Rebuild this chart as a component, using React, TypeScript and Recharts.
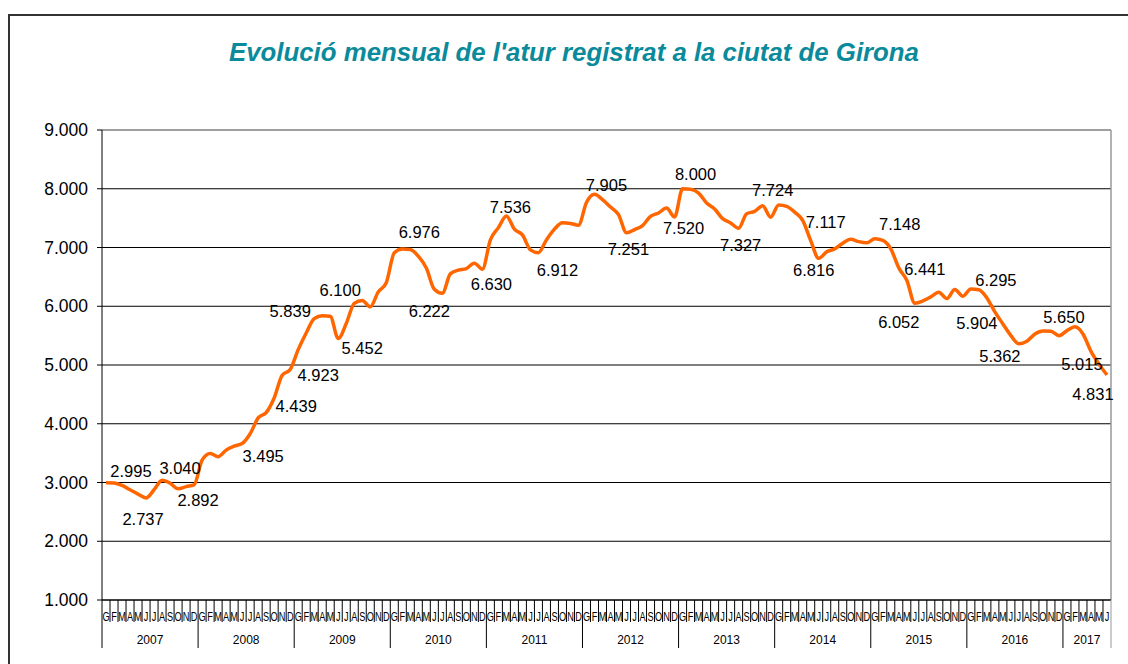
import React from "react";
import {
  LineChart,
  Line,
  XAxis,
  YAxis,
  CartesianGrid,
  ReferenceLine,
} from "recharts";

// mesos (inicials en català) i anys
const monthLetters = ["G", "F", "M", "A", "M", "J", "J", "A", "S", "O", "N", "D"];
const years = ["2007", "2008", "2009", "2010", "2011", "2012", "2013", "2014", "2015", "2016", "2017"];

// atur registrat, un array per any
const atur2007 = [2995, 2990, 2950, 2876, 2803, 2737, 2876, 3040, 2988, 2892, 2930, 2960];
const atur2008 = [3380, 3495, 3440, 3551, 3618, 3663, 3830, 4100, 4190, 4439, 4824, 4923];
const atur2009 = [5262, 5545, 5790, 5839, 5830, 5452, 5705, 6050, 6100, 5990, 6245, 6400];
const atur2010 = [6910, 6976, 6965, 6852, 6650, 6290, 6222, 6551, 6614, 6642, 6733, 6630];
const atur2011 = [7130, 7338, 7536, 7312, 7216, 6960, 6912, 7130, 7312, 7420, 7409, 7380];
const atur2012 = [7767, 7905, 7814, 7689, 7559, 7251, 7305, 7373, 7531, 7588, 7672, 7520];
const atur2013 = [8000, 7990, 7926, 7757, 7655, 7492, 7418, 7327, 7576, 7616, 7712, 7517];
const atur2014 = [7724, 7700, 7602, 7460, 7117, 6816, 6926, 6977, 7074, 7140, 7100, 7080];
const atur2015 = [7148, 7120, 6977, 6653, 6441, 6052, 6090, 6159, 6239, 6130, 6284, 6170];
const atur2016 = [6295, 6280, 6142, 5904, 5699, 5500, 5362, 5404, 5529, 5580, 5574, 5500];
const atur2017 = [5585, 5650, 5529, 5233, 5015, 4831];

const yTicks = [1000, 2000, 3000, 4000, 5000, 6000, 7000, 8000, 9000];

// which months carry a value label
const labeledMonths = [0, 5, 7, 9, 13, 21, 23, 27, 29, 32, 37, 42, 47, 50, 54, 61, 65, 71, 72, 79, 84, 88, 89, 96, 100, 101, 108, 111, 114, 121, 124, 125];

// label placement (dx, dy from the point)
const labelOffsets: Record<number, [number, number]> = {
  0: [25, -12], 5: [-3, 21], 7: [18, -12], 9: [20, 11], 13: [53, 3],
  21: [22, 8], 23: [28, 5], 27: [-32, -5], 29: [24, 10], 32: [-22, -10],
  37: [17, -17], 42: [-13, 18], 47: [9, 15], 50: [4, -9], 54: [19, 17],
  61: [12, -9], 65: [2, 16], 71: [9, 11], 72: [13, -15], 79: [2, 17],
  84: [-6, -15], 88: [15, -19], 89: [-5, 12], 96: [25, -15], 100: [18, -11],
  101: [-16, 19], 108: [25, -9], 111: [-18, 11], 114: [-19, 12], 121: [-11, -10],
  124: [-17, 0], 125: [-14, 19],
};

const allValues = [
  ...atur2007, ...atur2008, ...atur2009, ...atur2010, ...atur2011, ...atur2012,
  ...atur2013, ...atur2014, ...atur2015, ...atur2016, ...atur2017,
];

const data = allValues.map((v, i) => ({ idx: i, atur: v }));
const idxTicks = data.map((d) => d.idx);

const W = 1128;
const H = 664;
const PLOT_LEFT = 102;
const PLOT_RIGHT = 1111;
const BW = (PLOT_RIGHT - PLOT_LEFT) / data.length;
const FONT = "'Liberation Sans', Arial, sans-serif";

const fmt = (v: number) => {
  if (v < 1000) return String(v);
  return `${Math.floor(v / 1000)}.${String(v % 1000).padStart(3, "0")}`;
};

const MonthTick = (props: any) => {
  const { x, y, payload } = props;
  const i = payload.value;
  const m = i % 12;
  const yr = Math.floor(i / 12);
  const monthsInYear = Math.min(12, data.length - yr * 12);
  const isLast = i === data.length - 1;
  return (
    <g>
      <line x1={x - BW / 2} x2={x - BW / 2} y1={y} y2={y + (m === 0 ? 48 : 22)} stroke="#000" />
      <text
        transform={`translate(${x},${y + 21}) scale(0.68,1)`}
        textAnchor="middle"
        fontSize={13.5}
        fontFamily={FONT}
        fill="#000"
      >
        {monthLetters[m]}
      </text>
      {m === 0 && (
        <text
          x={x + ((monthsInYear - 1) / 2) * BW}
          y={y + 44}
          textAnchor="middle"
          fontSize={12}
          fontFamily={FONT}
          fill="#000"
        >
          {years[yr]}
        </text>
      )}
      {isLast && (
        <line x1={x + BW / 2} x2={x + BW / 2} y1={y} y2={y + 48} stroke="#999" />
      )}
    </g>
  );
};

const renderLabel = (props: any) => {
  const { x, y, index, value } = props;
  if (!labeledMonths.includes(index)) return null;
  const [dx, dy] = labelOffsets[index] || [0, -12];
  return (
    <text
      key={`lbl-${index}`}
      x={x + dx}
      y={y + dy}
      textAnchor="middle"
      dominantBaseline="central"
      fontSize={16.5}
      fontFamily={FONT}
      fill="#000"
    >
      {fmt(value)}
    </text>
  );
};

export default function App() {
  return (
    <div
      style={{
        position: "absolute",
        left: 0,
        top: 0,
        width: W,
        height: H,
        overflow: "hidden",
        background: "#fff",
      }}
    >
      <div
        style={{
          position: "absolute",
          left: 8,
          top: 14,
          width: 1300,
          height: 800,
          borderTop: "2px solid #333",
          borderLeft: "2px solid #333",
        }}
      />
      <div
        style={{
          position: "absolute",
          left: 10,
          top: 37,
          width: W,
          lineHeight: "30px",
          textAlign: "center",
          fontFamily: FONT,
          fontWeight: "bold",
          fontStyle: "italic",
          fontSize: 25.8,
          color: "#0a8a9a",
        }}
      >
        Evolució mensual de l'atur registrat a la ciutat de Girona
      </div>
      <div style={{ position: "absolute", left: 0, top: 0 }}>
        <LineChart
          width={W}
          height={H}
          data={data}
          margin={{ top: 130, right: W - PLOT_RIGHT, bottom: 0, left: 0 }}
        >
          <CartesianGrid vertical={false} stroke="#000" strokeWidth={1} />
          <XAxis
            dataKey="idx"
            type="number"
            domain={[-0.5, data.length - 0.5]}
            ticks={idxTicks}
            interval={0}
            tick={<MonthTick />}
            tickLine={false}
            tickSize={0}
            tickMargin={0}
            axisLine={{ stroke: "#000" }}
            height={64}
          />
          <YAxis
            type="number"
            domain={[1000, 9000]}
            ticks={yTicks}
            interval={0}
            width={PLOT_LEFT}
            tickFormatter={fmt}
            tick={{ fontSize: 17.5, fontFamily: FONT, fill: "#000" }}
            tickSize={5}
            tickMargin={9}
            tickLine={{ stroke: "#000" }}
            axisLine={{ stroke: "#000" }}
          />
          <ReferenceLine y={9000} stroke="#aaa" strokeWidth={1.5} />
          <ReferenceLine x={data.length - 0.5} stroke="#999" strokeWidth={1.5} />
          <Line
            dataKey="atur"
            type="monotone"
            stroke="#ff6600"
            strokeWidth={3.5}
            dot={false}
            activeDot={false}
            isAnimationActive={false}
            label={renderLabel}
          />
        </LineChart>
      </div>
    </div>
  );
}
